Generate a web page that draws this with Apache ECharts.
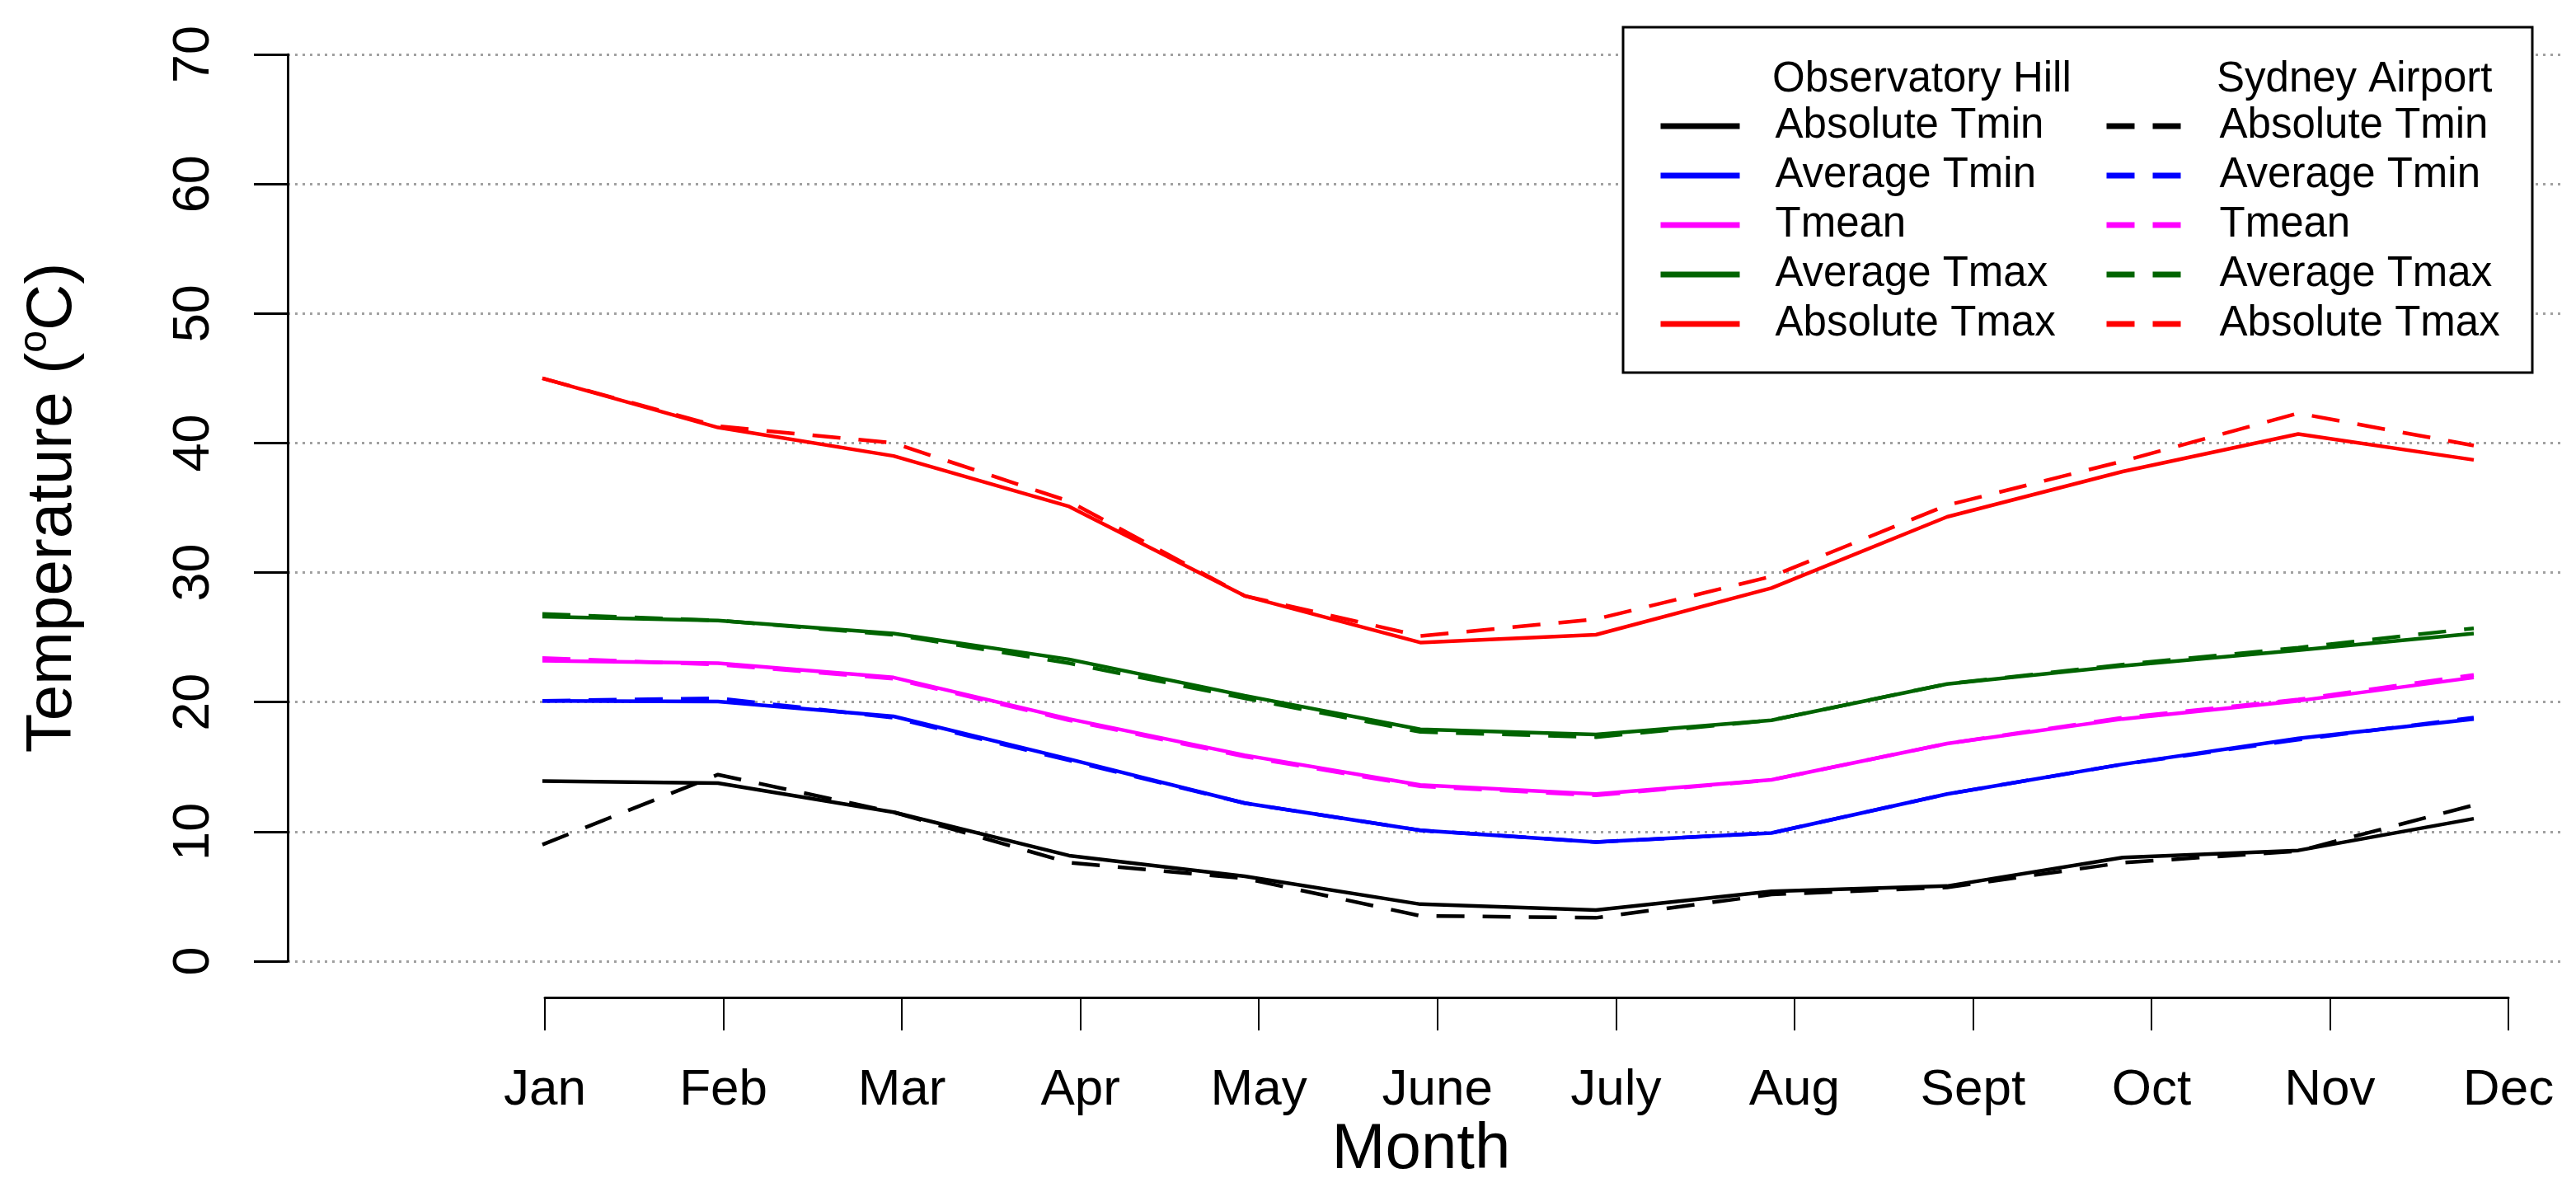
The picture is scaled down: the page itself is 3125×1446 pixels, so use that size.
<!DOCTYPE html>
<html>
<head>
<meta charset="utf-8">
<script src="https://cdn.jsdelivr.net/npm/echarts@6/dist/echarts.min.js"></script>
<style>html,body{margin:0;padding:0;background:#fff;}#c{width:3125px;height:1446px;}</style>
</head>
<body>
<div id="c"></div>
<script>
const months = ['Jan','Feb','Mar','Apr','May','June','July','Aug','Sept','Oct','Nov','Dec'];
const yTicks = [0, 10, 20, 30, 40, 50, 60, 70];

// Observatory Hill (solid)
const ohAbsTmin = [13.9, 13.75, 11.5, 8.15, 6.55, 4.4, 3.95, 5.4, 5.8, 8.0, 8.55, 11.0];
const ohAvgTmin = [20.1, 20.05, 18.9, 15.6, 12.2, 10.1, 9.2, 9.9, 12.9, 15.2, 17.2, 18.7];
const ohTmean   = [23.2, 23.0, 21.9, 18.7, 15.9, 13.6, 12.9, 14.0, 16.8, 18.7, 20.1, 21.9];
const ohAvgTmax = [26.6, 26.3, 25.3, 23.3, 20.5, 17.9, 17.5, 18.6, 21.4, 22.8, 24.0, 25.3];
const ohAbsTmax = [45.0, 41.2, 39.0, 35.1, 28.2, 24.6, 25.2, 28.8, 34.3, 37.8, 40.7, 38.7];

// Sydney Airport (dashed)
const saAbsTmin = [9.0, 14.4, 11.5, 7.6, 6.4, 3.5, 3.35, 5.15, 5.7, 7.6, 8.5, 12.05];
const saAvgTmin = [20.1, 20.3, 18.8, 15.5, 12.2, 10.1, 9.2, 9.9, 12.9, 15.2, 17.1, 18.8];
const saTmean   = [23.4, 22.9, 21.8, 18.6, 15.8, 13.5, 12.8, 14.0, 16.8, 18.8, 20.2, 22.1];
const saAvgTmax = [26.8, 26.3, 25.2, 23.0, 20.3, 17.7, 17.3, 18.6, 21.4, 22.9, 24.2, 25.7];
const saAbsTmax = [45.0, 41.3, 40.0, 35.5, 28.2, 25.1, 26.4, 29.7, 35.2, 38.6, 42.3, 39.8];

const varNames = ['Absolute Tmin', 'Average Tmin', 'Tmean', 'Average Tmax', 'Absolute Tmax'];
const colors = ['#000000', '#0000ff', '#ff00ff', '#006400', '#ff0000'];
const ohData = [ohAbsTmin, ohAvgTmin, ohTmean, ohAvgTmax, ohAbsTmax];
const saData = [saAbsTmin, saAvgTmin, saTmean, saAvgTmax, saAbsTmax];

const FONT = 'Liberation Sans, Arial, Helvetica, sans-serif';
const DASH = [34, 22];

function mk(prefix, arr, idx, dashed) {
  return {
    name: prefix + varNames[idx],
    type: 'line',
    xAxisIndex: 1, yAxisIndex: 1,
    data: arr.map((v, i) => [i + 1, v]),
    symbol: 'none', showSymbol: false,
    silent: true, animation: false,
    itemStyle: { color: colors[idx] },
    lineStyle: { color: colors[idx], width: 4.5, type: dashed ? DASH : 'solid' },
    z: 2
  };
}
const series = [];
for (let i = 0; i < 5; i++) series.push(mk('OH ', ohData[i], i, false));
for (let i = 0; i < 5; i++) series.push(mk('SA ', saData[i], i, true));

const legendCommon = {
  orient: 'vertical', top: 125, padding: 0,
  itemWidth: 96, itemHeight: 20, itemGap: 4,
  selectedMode: false, z: 10,
  lineStyle: { width: 7 },
  itemStyle: { opacity: 0, borderWidth: 0 },
  formatter: n => n.slice(3),
  textStyle: { fontSize: 51, lineHeight: 56, fontFamily: FONT, color: '#000' }
};

const chart = echarts.init(document.getElementById('c'), null, { renderer: 'canvas' });
chart.setOption({
  backgroundColor: '#fff',
  animation: false,
  grid: [
    { left: 349, right: 15, top: 66, height: 1100, outerBoundsMode: 'none', containLabel: false },
    { left: 658, right: 124, top: 66, height: 1100, outerBoundsMode: 'none', containLabel: false },
    { left: 661, right: 82, top: 1209, height: 1, outerBoundsMode: 'none', containLabel: false }
  ],
  xAxis: [
    { gridIndex: 0, type: 'value', min: 0, max: 1, show: false },
    { gridIndex: 1, type: 'value', min: 1, max: 12, show: false },
    {
      gridIndex: 2, type: 'category', data: months, boundaryGap: false, position: 'bottom',
      axisLine: { show: true, lineStyle: { color: '#000', width: 3 } },
      axisTick: { show: true, length: 40, inside: false, interval: 0, lineStyle: { color: '#000', width: 2 } },
      axisLabel: { show: true, interval: 0, margin: 82, fontSize: 62, fontFamily: FONT, color: '#000' },
      splitLine: { show: false }
    }
  ],
  yAxis: [
    {
      gridIndex: 0, type: 'value', min: yTicks[0], max: yTicks[yTicks.length - 1], interval: 10,
      axisLine: { show: true, lineStyle: { color: '#000', width: 3 } },
      axisTick: { show: true, length: 41, inside: false, lineStyle: { color: '#000', width: 3 } },
      axisLabel: { show: true, rotate: 90, margin: 82, fontSize: 63, fontFamily: FONT, color: '#000' },
      splitLine: { show: true, lineStyle: { color: '#a0a0a0', width: 3, type: [3, 6] } }
    },
    { gridIndex: 1, type: 'value', min: 0, max: 70, show: false },
    { gridIndex: 2, type: 'value', min: 0, max: 1, show: false }
  ],
  legend: [
    Object.assign({}, legendCommon, {
      left: 2011, data: varNames.map(n => 'OH ' + n),
      textStyle: Object.assign({}, legendCommon.textStyle, { padding: [0, 0, 0, 38] })
    }),
    Object.assign({}, legendCommon, {
      left: 2552, data: varNames.map(n => 'SA ' + n),
      textStyle: Object.assign({}, legendCommon.textStyle, { padding: [0, 0, 0, 36] })
    })
  ],
  graphic: [
    { type: 'rect', z: 5, shape: { x: 1969, y: 33, width: 1103, height: 419 },
      style: { fill: '#fff', stroke: '#000', lineWidth: 3 } },
    { type: 'text', z: 11, x: 2150, y: 97,
      style: { text: 'Observatory Hill', fontSize: 51, fontFamily: FONT, fill: '#000', align: 'left', verticalAlign: 'middle' } },
    { type: 'text', z: 11, x: 2689, y: 97,
      style: { text: 'Sydney Airport', fontSize: 51, fontFamily: FONT, fill: '#000', align: 'left', verticalAlign: 'middle' } },
    { type: 'text', z: 11, x: 1724, y: 1395,
      style: { text: 'Month', fontSize: 78, fontFamily: FONT, fill: '#000', align: 'center', verticalAlign: 'middle' } },
    { type: 'text', z: 11, x: 64, y: 616, rotation: Math.PI / 2,
      style: {
        text: '{a|Temperature (}{b|o}{a|C)}',
        align: 'center', verticalAlign: 'middle', fill: '#000',
        rich: {
          a: { fontSize: 78, fontFamily: FONT, fill: '#000', lineHeight: 90 },
          b: { fontSize: 48, fontFamily: FONT, fill: '#000', verticalAlign: 'top', lineHeight: 90, padding: [0, 0, 30, 0] }
        }
      } }
  ],
  series: series
});
</script>
</body>
</html>
